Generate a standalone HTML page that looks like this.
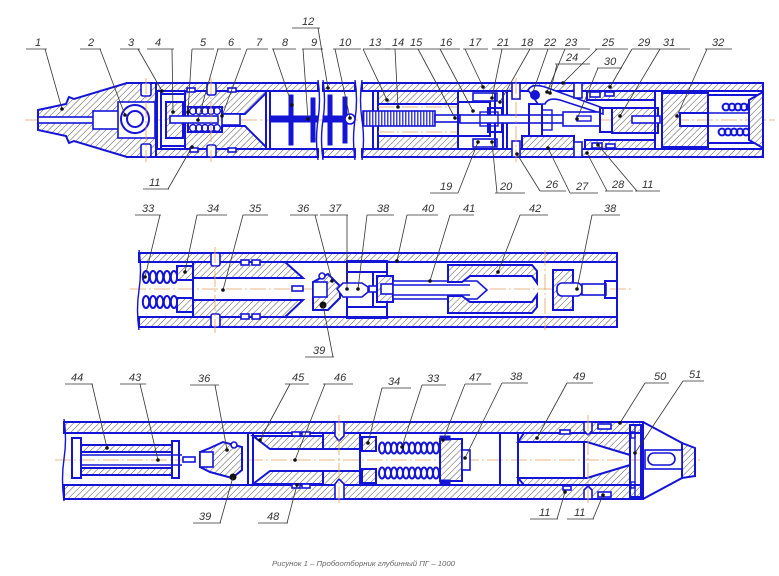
<!DOCTYPE html>
<html><head><meta charset="utf-8">
<style>
html,body{margin:0;padding:0;background:#fff;}
svg{display:block;}
.b{stroke:#1414d6;stroke-width:2;fill:none;}
.b1{stroke:#1414d6;stroke-width:1.4;fill:none;}
.bf{fill:#1414d6;stroke:#1414d6;stroke-width:1;}
.h{fill:url(#hp);stroke:#1414d6;stroke-width:2;}
.w{fill:#fff;stroke:#1414d6;stroke-width:1.6;}
.t{fill:url(#tp);stroke:#1414d6;stroke-width:1.6;}
.c{stroke:#e8a060;stroke-width:0.8;fill:none;stroke-dasharray:16 3 2 3;}
.l{stroke:#333;stroke-width:0.8;fill:none;}
.d{fill:#111;}
text.n{font-family:"Liberation Sans",sans-serif;font-style:italic;font-size:11px;fill:#333;}
</style></head><body>
<svg width="779" height="576" viewBox="0 0 779 576" xmlns="http://www.w3.org/2000/svg">
<defs>
<pattern id="hp" patternUnits="userSpaceOnUse" width="4.5" height="4.5" patternTransform="rotate(45)">
<rect width="4.5" height="4.5" fill="#fff"/>
<line x1="0" y1="0" x2="0" y2="4.5" stroke="#555" stroke-width="1"/>
</pattern>
<pattern id="tp" patternUnits="userSpaceOnUse" width="3" height="3">
<rect width="3" height="3" fill="#fff"/>
<line x1="0.8" y1="0" x2="0.8" y2="3" stroke="#1414d6" stroke-width="1.2"/>
</pattern>
<g id="c5"><circle cx="0" cy="0" r="3.4"/><circle cx="6" cy="0" r="3.4"/><circle cx="12" cy="0" r="3.4"/><circle cx="18" cy="0" r="3.4"/><circle cx="24" cy="0" r="3.4"/></g>
<g id="e5"><ellipse cx="0" cy="0" rx="3.2" ry="6"/><ellipse cx="7" cy="0" rx="3.2" ry="6"/><ellipse cx="14" cy="0" rx="3.2" ry="6"/><ellipse cx="21" cy="0" rx="3.2" ry="6"/><ellipse cx="28" cy="0" rx="3.2" ry="6"/></g>
<g id="f5"><ellipse cx="0" cy="0" rx="3" ry="5.5"/><ellipse cx="6" cy="0" rx="3" ry="5.5"/><ellipse cx="12" cy="0" rx="3" ry="5.5"/><ellipse cx="18" cy="0" rx="3" ry="5.5"/><ellipse cx="24" cy="0" rx="3" ry="5.5"/></g>
</defs>
<rect width="779" height="576" fill="#fff"/>

<!-- ROW 1 -->
<line class="c" x1="25" y1="120" x2="775" y2="120"/>
<rect class="h" x="127" y="83" width="191" height="8"/>
<rect class="h" x="127" y="149" width="191" height="8"/>
<rect class="h" x="323" y="83" width="32" height="8"/>
<rect class="h" x="323" y="149" width="32" height="8"/>
<rect class="h" x="362" y="83" width="401" height="8"/>
<rect class="h" x="362" y="149" width="401" height="8"/>
<polygon class="h" points="38,110 66,104 69,97 74,99 127,83 156,83 156,157 127,157 74,141 69,143 66,136 38,130"/>
<rect class="w" x="38" y="117" width="56" height="6"/>
<rect class="w" x="93" y="111" width="26" height="18"/>
<rect class="w" x="118" y="102" width="37" height="36"/>
<circle class="b" cx="135" cy="119" r="14"/>
<circle class="b" cx="135" cy="119" r="8"/>
<rect class="w" x="141" y="83" width="10" height="13" rx="2"/>
<rect class="w" x="141" y="144" width="10" height="13" rx="2"/>
<line class="c" x1="146" y1="78" x2="146" y2="162"/>
<rect class="b" x="157" y="91" width="4" height="58"/>
<line class="b" x1="161" y1="94" x2="185" y2="94"/>
<line class="b" x1="161" y1="146" x2="185" y2="146"/>
<rect class="h" x="166" y="102" width="17" height="36"/>
<path class="h" fill-rule="evenodd" d="M185,91 H266 V149 H185 Z M188,107 H222 V114 H245 L266,93 V147 L245,126 H222 V132 H188 Z"/>
<g class="b1"><use href="#c5" x="193" y="111"/><use href="#c5" x="193" y="128"/></g>
<rect class="w" x="170" y="116" width="48" height="7"/>
<rect class="w" x="222" y="114" width="18" height="11"/>
<rect class="w" x="187" y="88" width="8" height="4"/>
<rect class="w" x="190" y="148" width="8" height="4"/>
<rect class="w" x="228" y="88" width="8" height="4"/>
<rect class="w" x="228" y="148" width="8" height="4"/>
<rect class="w" x="207" y="83" width="9" height="12" rx="2"/>
<rect class="w" x="207" y="145" width="9" height="12" rx="2"/>
<line class="c" x1="211" y1="78" x2="211" y2="162"/>
<rect class="b" x="266" y="91" width="4" height="58"/>
<rect class="bf" x="270" y="116" width="48" height="6"/>
<rect class="bf" x="289" y="95" width="4" height="50"/>
<rect class="bf" x="311" y="98" width="4" height="44"/>
<rect class="bf" x="323" y="116" width="25" height="6"/>
<rect class="bf" x="328" y="95" width="4" height="50"/>
<rect class="bf" x="343" y="97" width="4" height="46"/>
<circle class="w" cx="350" cy="119" r="5"/>
<path class="b1" d="M318,80 q3,20 0,40 q-3,20 0,40"/>
<path class="b1" d="M323,80 q3,20 0,40 q-3,20 0,40"/>
<path class="b1" d="M355,80 q3,20 0,40 q-3,20 0,40"/>
<path class="b1" d="M362,80 q-3,20 0,40 q3,20 0,40"/>
<line class="b" x1="373" y1="91" x2="373" y2="149"/>
<line class="b" x1="378" y1="91" x2="378" y2="149"/>
<rect class="h" x="378" y="91" width="80" height="13"/>
<rect class="h" x="378" y="136" width="80" height="13"/>
<line class="c" x1="378" y1="107" x2="458" y2="107"/>
<line class="c" x1="378" y1="132" x2="458" y2="132"/>
<rect class="t" x="363" y="111" width="72" height="15"/>
<rect class="w" x="435" y="115" width="25" height="7"/>
<rect class="b" x="458" y="102" width="32" height="34"/>
<rect class="w" x="473" y="93" width="24" height="8"/>
<rect class="w" x="473" y="139" width="24" height="8"/>
<rect class="b" x="488" y="108" width="14" height="24"/>
<line class="b" x1="495" y1="93" x2="495" y2="147"/>
<rect class="b" x="503" y="91" width="4" height="58"/>
<rect class="w" x="460" y="115" width="110" height="8"/>
<rect class="b1" x="480" y="112" width="18" height="14"/>
<rect class="w" x="512" y="83" width="8" height="16"/>
<rect class="w" x="512" y="141" width="8" height="16"/>
<line class="c" x1="516" y1="78" x2="516" y2="162"/>
<rect class="b" x="529" y="104" width="13" height="32"/>
<rect class="b1" x="542" y="110" width="10" height="20"/>
<path class="w" d="M528,90 Q532,83 545,87 L603,108 L603,114 L560,100 Q548,97 545,104 L538,104 Z"/>
<circle class="bf" cx="535" cy="95" r="4.5"/>
<rect class="h" x="522" y="136" width="52" height="13"/>
<rect class="w" x="574" y="83" width="8" height="15"/>
<rect class="w" x="574" y="142" width="8" height="15"/>
<rect class="h" x="587" y="91" width="68" height="9"/>
<rect class="h" x="585" y="140" width="70" height="9"/>
<rect class="w" x="590" y="92" width="10" height="5"/>
<rect class="w" x="605" y="92" width="9" height="4"/>
<rect class="w" x="592" y="143" width="10" height="5"/>
<rect class="w" x="606" y="144" width="9" height="4"/>
<rect class="w" x="563" y="112" width="37" height="14"/>
<rect class="b1" x="577" y="116" width="14" height="5"/>
<rect class="b" x="600" y="108" width="12" height="24"/>
<rect class="h" x="612" y="108" width="46" height="25"/>
<rect class="w" x="632" y="116" width="28" height="7"/>
<rect class="b" x="655" y="91" width="7" height="58"/>
<path class="h" fill-rule="evenodd" d="M662,93 H708 V147 H662 Z M680,113 H708 V126 H680 Z"/>
<rect class="b" x="708" y="95" width="55" height="48"/>
<line class="b1" x1="708" y1="113" x2="750" y2="113"/>
<line class="b1" x1="708" y1="126" x2="750" y2="126"/>
<g class="b"><use href="#c5" x="726" y="107"/><use href="#c5" x="722" y="132"/></g>
<polygon class="h" points="749,100 763,92 763,148 749,140"/>
<line class="b" x1="763" y1="83" x2="763" y2="157"/>

<!-- ROW 2 -->
<line class="c" x1="130" y1="289" x2="632" y2="289"/>
<rect class="h" x="139" y="253" width="478" height="9"/>
<rect class="h" x="139" y="317" width="478" height="10"/>
<g class="b"><use href="#e5" x="146" y="277"/><use href="#e5" x="146" y="302"/></g>
<rect class="h" x="177" y="266" width="16" height="14"/>
<rect class="h" x="177" y="298" width="16" height="14"/>
<polygon class="h" points="193,262 285,262 303,278 193,278"/>
<polygon class="h" points="193,300 303,300 285,317 193,317"/>
<line class="b" x1="193" y1="262" x2="193" y2="317"/>
<rect class="w" x="292" y="286" width="11" height="5"/>
<rect class="w" x="211" y="253" width="9" height="13" rx="2"/>
<rect class="w" x="211" y="314" width="9" height="13" rx="2"/>
<line class="c" x1="215" y1="247" x2="215" y2="333"/>
<rect class="w" x="241" y="260" width="8" height="5"/>
<rect class="w" x="252" y="260" width="8" height="5"/>
<rect class="w" x="241" y="314" width="8" height="5"/>
<rect class="w" x="252" y="314" width="8" height="5"/>
<polygon class="h" points="313,282 328,274 340,286 340,298 328,310 313,310"/>
<rect class="w" x="313" y="282" width="14" height="15"/>
<circle class="w" cx="322" cy="276" r="3"/>
<circle class="d" cx="323" cy="305" r="3.5"/>
<rect class="b" x="347" y="261" width="40" height="57"/>
<line class="b" x1="347" y1="272" x2="387" y2="272"/>
<line class="b" x1="347" y1="307" x2="387" y2="307"/>
<line class="b" x1="373" y1="272" x2="373" y2="307"/>
<polygon class="w" points="337,289 343,283 362,283 368,287 368,292 362,297 343,297"/>
<rect class="w" x="369" y="286" width="8" height="6"/>
<rect class="h" x="377" y="276" width="16" height="26"/>
<rect class="w" x="381" y="284" width="12" height="10"/>
<polygon class="w" points="393,281 477,281 487,290 477,299 393,299"/>
<line class="b1" x1="393" y1="285" x2="470" y2="285"/>
<line class="b1" x1="393" y1="295" x2="470" y2="295"/>
<polygon class="h" points="448,265 532,265 537,271 537,283 532,276 470,276 462,282 448,282"/>
<polygon class="h" points="448,313 532,313 537,307 537,295 532,302 470,302 462,296 448,296"/>
<line class="c" x1="545" y1="250" x2="545" y2="330"/>
<rect class="h" x="553" y="270" width="20" height="40"/>
<rect class="w" x="557" y="283" width="25" height="13" rx="5"/>
<rect class="w" x="582" y="284" width="24" height="11"/>
<path class="b" d="M617,281 H605 V298 H617"/>
<line class="b" x1="617" y1="253" x2="617" y2="327"/>
<path class="b1" d="M139,250 q3,20 0,40 q-3,20 0,40"/>

<!-- ROW 3 -->
<line class="c" x1="55" y1="460" x2="700" y2="460"/>
<rect class="h" x="64" y="422" width="579" height="11"/>
<rect class="h" x="64" y="485" width="579" height="14"/>
<path class="b1" d="M64,419 q3,20 0,40 q-3,20 0,42"/>
<rect class="b" x="72" y="438" width="9" height="40"/>
<rect class="b" x="172" y="441" width="7" height="37"/>
<rect class="h" x="81" y="445" width="91" height="7"/>
<rect class="h" x="81" y="468" width="91" height="7"/>
<line class="b1" x1="81" y1="455" x2="182" y2="455"/>
<line class="b1" x1="81" y1="465" x2="182" y2="465"/>
<rect class="w" x="183" y="457" width="12" height="5"/>
<polygon class="h" points="200,452 210,448 223,442 242,447 242,470 232,478 210,472 200,467"/>
<rect class="w" x="200" y="452" width="13" height="15"/>
<circle class="w" cx="234" cy="445" r="3"/>
<circle class="d" cx="233" cy="477" r="3.5"/>
<rect class="b" x="248" y="433" width="5" height="52"/>
<polygon class="h" points="253,436 323,436 323,449 270,449"/>
<polygon class="h" points="253,484 323,484 323,471 270,471"/>
<rect class="w" x="292" y="432" width="8" height="4"/>
<rect class="w" x="302" y="432" width="8" height="4"/>
<rect class="w" x="292" y="484" width="8" height="4"/>
<rect class="w" x="302" y="484" width="8" height="4"/>
<rect class="h" x="323" y="433" width="37" height="16"/>
<rect class="h" x="323" y="471" width="37" height="14"/>
<line class="b" x1="270" y1="449" x2="356" y2="449"/>
<line class="b" x1="270" y1="471" x2="356" y2="471"/>
<path class="w" d="M335,422 V436 L339,441 L344,436 V422 Z"/>
<path class="w" d="M335,499 V484 L339,479 L344,484 V499 Z"/>
<line class="c" x1="339" y1="415" x2="339" y2="505"/>
<line class="b" x1="360" y1="433" x2="360" y2="485"/>
<rect class="h" x="362" y="437" width="14" height="14"/>
<rect class="h" x="362" y="469" width="14" height="14"/>
<g class="b"><use href="#f5" x="382" y="448"/><use href="#f5" x="412" y="448"/><use href="#f5" x="382" y="473"/><use href="#f5" x="412" y="473"/></g>
<rect class="h" x="440" y="439" width="22" height="42"/>
<rect class="bf" x="440" y="436" width="10" height="4"/>
<rect class="bf" x="440" y="480" width="10" height="4"/>
<rect class="w" x="462" y="450" width="8" height="20"/>
<rect class="b" x="500" y="433" width="18" height="52"/>
<polygon class="h" points="518,442 524,433 630,433 630,455 587,442"/>
<polygon class="h" points="518,478 524,485 630,485 630,465 587,478"/>
<line class="b" x1="584" y1="442" x2="584" y2="478"/>
<rect class="w" x="560" y="430" width="10" height="4"/>
<rect class="w" x="563" y="486" width="8" height="4"/>
<path class="w" d="M584,422 V431 L588,435 L592,431 V422 Z"/>
<path class="w" d="M584,499 V490 L588,486 L592,490 V499 Z"/>
<line class="c" x1="588" y1="415" x2="588" y2="505"/>
<rect class="w" x="598" y="424" width="13" height="5"/>
<rect class="w" x="598" y="492" width="13" height="5"/>
<rect class="b" x="630" y="425" width="11" height="72"/>
<line class="b1" x1="635" y1="425" x2="635" y2="497"/>
<rect class="b1" x="631" y="432" width="4" height="6"/>
<rect class="b1" x="631" y="482" width="4" height="6"/>
<line class="b" x1="643" y1="422" x2="643" y2="499"/>
<polyline class="b" points="643,422 682,443 682,478 643,499"/>
<polygon class="h" points="682,443 695,448 695,476 682,478"/>
<rect class="w" x="645" y="450" width="37" height="19"/>
<rect class="w" x="648" y="453" width="27" height="12" rx="6"/>

<!-- LEADERS -->
<g class="l">
<path d="M26,49H47M45,49L62,109M80,49H101M100,49L125,115M120,49H140M138,49L162,91M147,49H174M172,49L173,112"/>
<path d="M192,49H214M192,49L188,112M217,49H241M218,49L198,120M247,49H268M247,49L222,116M272,49H296M273,49L292,105"/>
<path d="M302,49H323M303,49L308,119M292,28H320M318,28L328,88M333,49H361M335,49L350,118M363,49H390M363,49L387,100"/>
<path d="M385,49H410M395,49L398,107M405,49H435M418,49L455,118M435,49H460M440,49L473,111M463,49H488M465,49L483,87"/>
<path d="M492,49H517M502,49L492,98M515,49H540M530,49L500,102M540,49H562M548,49L533,92M562,49H590M565,49L547,92"/>
<path d="M555,64H590M557,64L550,93M595,49H628M597,49L563,83M597,68H622M598,68L577,119M632,49H658M632,49L610,87"/>
<path d="M657,49H690M660,49L620,116M705,49H732M707,49L677,116"/>
<path d="M143,189H169M168,189L192,147M430,193H458M458,193L478,142M495,193H525M497,193L492,142M540,191H566M540,191L517,154"/>
<path d="M570,193H598M570,193L548,148M605,191H633M607,191L587,153M635,191H660M637,191L598,145"/>
<path d="M135,215H161M160,215L145,277M197,215H227M197,215L185,272M243,215H268M243,215L223,290M290,215H318M315,215L332,281"/>
<path d="M320,215H348M347,215L347,289M367,215H394M367,215L358,289M407,215H438M407,215L397,261M450,215H474M450,215L430,281"/>
<path d="M520,215H548M520,215L498,272M592,215H620M592,215L577,289M305,357H334M333,357L323,305"/>
<path d="M65,384H93M92,384L107,448M120,384H146M140,384L158,460M190,385H219M215,385L227,450M285,384H309M290,384L260,440"/>
<path d="M323,384H353M325,384L295,460M382,388H411M382,388L368,443M422,385H446M422,385L402,447M465,384H491M465,384L443,440"/>
<path d="M502,383H528M502,383L465,458M567,383H593M567,383L537,438M645,383H669M645,383L620,423M683,381H704M683,381L635,453"/>
<path d="M193,523H221M220,523L233,477M258,523H288M287,523L297,485M530,519H558M557,519L565,492M567,519H594M593,519L603,495"/>
</g>
<g class="d">
<circle cx="62" cy="109" r="1.8"/><circle cx="125" cy="115" r="1.8"/><circle cx="162" cy="91" r="1.8"/><circle cx="173" cy="112" r="1.8"/>
<circle cx="188" cy="112" r="1.8"/><circle cx="198" cy="120" r="1.8"/><circle cx="222" cy="116" r="1.8"/><circle cx="292" cy="105" r="1.8"/>
<circle cx="308" cy="119" r="1.8"/><circle cx="328" cy="88" r="1.8"/><circle cx="350" cy="118" r="1.8"/><circle cx="387" cy="100" r="1.8"/>
<circle cx="398" cy="107" r="1.8"/><circle cx="455" cy="118" r="1.8"/><circle cx="473" cy="111" r="1.8"/><circle cx="483" cy="87" r="1.8"/>
<circle cx="492" cy="98" r="1.8"/><circle cx="500" cy="102" r="1.8"/><circle cx="547" cy="92" r="1.8"/><circle cx="550" cy="93" r="1.8"/>
<circle cx="563" cy="83" r="1.8"/><circle cx="577" cy="119" r="1.8"/><circle cx="610" cy="87" r="1.8"/><circle cx="620" cy="116" r="1.8"/>
<circle cx="677" cy="116" r="1.8"/><circle cx="192" cy="147" r="1.8"/><circle cx="478" cy="142" r="1.8"/><circle cx="492" cy="142" r="1.8"/>
<circle cx="517" cy="154" r="1.8"/><circle cx="548" cy="148" r="1.8"/><circle cx="587" cy="153" r="1.8"/><circle cx="598" cy="145" r="1.8"/>
<circle cx="145" cy="277" r="1.8"/><circle cx="185" cy="272" r="1.8"/><circle cx="223" cy="290" r="1.8"/><circle cx="332" cy="281" r="1.8"/>
<circle cx="347" cy="289" r="1.8"/><circle cx="358" cy="289" r="1.8"/><circle cx="397" cy="261" r="1.8"/><circle cx="430" cy="281" r="1.8"/>
<circle cx="498" cy="272" r="1.8"/><circle cx="577" cy="289" r="1.8"/><circle cx="107" cy="448" r="1.8"/><circle cx="158" cy="460" r="1.8"/>
<circle cx="227" cy="450" r="1.8"/><circle cx="260" cy="440" r="1.8"/><circle cx="295" cy="460" r="1.8"/><circle cx="368" cy="443" r="1.8"/>
<circle cx="402" cy="447" r="1.8"/><circle cx="443" cy="440" r="1.8"/><circle cx="465" cy="458" r="1.8"/><circle cx="537" cy="438" r="1.8"/>
<circle cx="620" cy="423" r="1.8"/><circle cx="635" cy="453" r="1.8"/><circle cx="297" cy="485" r="1.8"/><circle cx="565" cy="492" r="1.8"/>
<circle cx="603" cy="495" r="1.8"/>
</g>

<!-- LABELS -->
<text class="n" x="35" y="46">1</text>
<text class="n" x="88" y="46">2</text>
<text class="n" x="128" y="46">3</text>
<text class="n" x="155" y="46">4</text>
<text class="n" x="200" y="46">5</text>
<text class="n" x="228" y="46">6</text>
<text class="n" x="256" y="46">7</text>
<text class="n" x="282" y="46">8</text>
<text class="n" x="311" y="46">9</text>
<text class="n" x="302" y="25">12</text>
<text class="n" x="339" y="46">10</text>
<text class="n" x="369" y="46">13</text>
<text class="n" x="392" y="46">14</text>
<text class="n" x="410" y="46">15</text>
<text class="n" x="440" y="46">16</text>
<text class="n" x="469" y="46">17</text>
<text class="n" x="497" y="46">21</text>
<text class="n" x="521" y="46">18</text>
<text class="n" x="544" y="46">22</text>
<text class="n" x="565" y="46">23</text>
<text class="n" x="566" y="61">24</text>
<text class="n" x="602" y="46">25</text>
<text class="n" x="604" y="65">30</text>
<text class="n" x="638" y="46">29</text>
<text class="n" x="663" y="46">31</text>
<text class="n" x="712" y="46">32</text>
<text class="n" x="149" y="186">11</text>
<text class="n" x="440" y="190">19</text>
<text class="n" x="500" y="190">20</text>
<text class="n" x="546" y="188">26</text>
<text class="n" x="576" y="190">27</text>
<text class="n" x="612" y="188">28</text>
<text class="n" x="642" y="188">11</text>
<text class="n" x="142" y="212">33</text>
<text class="n" x="207" y="212">34</text>
<text class="n" x="249" y="212">35</text>
<text class="n" x="297" y="212">36</text>
<text class="n" x="329" y="212">37</text>
<text class="n" x="377" y="212">38</text>
<text class="n" x="422" y="212">40</text>
<text class="n" x="463" y="212">41</text>
<text class="n" x="529" y="212">42</text>
<text class="n" x="604" y="212">38</text>
<text class="n" x="313" y="354">39</text>
<text class="n" x="71" y="381">44</text>
<text class="n" x="129" y="381">43</text>
<text class="n" x="198" y="382">36</text>
<text class="n" x="292" y="381">45</text>
<text class="n" x="334" y="381">46</text>
<text class="n" x="388" y="385">34</text>
<text class="n" x="427" y="382">33</text>
<text class="n" x="469" y="381">47</text>
<text class="n" x="510" y="380">38</text>
<text class="n" x="573" y="380">49</text>
<text class="n" x="654" y="380">50</text>
<text class="n" x="689" y="378">51</text>
<text class="n" x="199" y="520">39</text>
<text class="n" x="267" y="520">48</text>
<text class="n" x="539" y="516">11</text>
<text class="n" x="574" y="516">11</text>
<text x="272" y="566" font-family="Liberation Sans, sans-serif" font-style="italic" font-size="7" fill="#666" textLength="183" lengthAdjust="spacingAndGlyphs">Рисунок 1 – Пробоотборник глубинный ПГ – 1000</text>
</svg>
</body></html>
